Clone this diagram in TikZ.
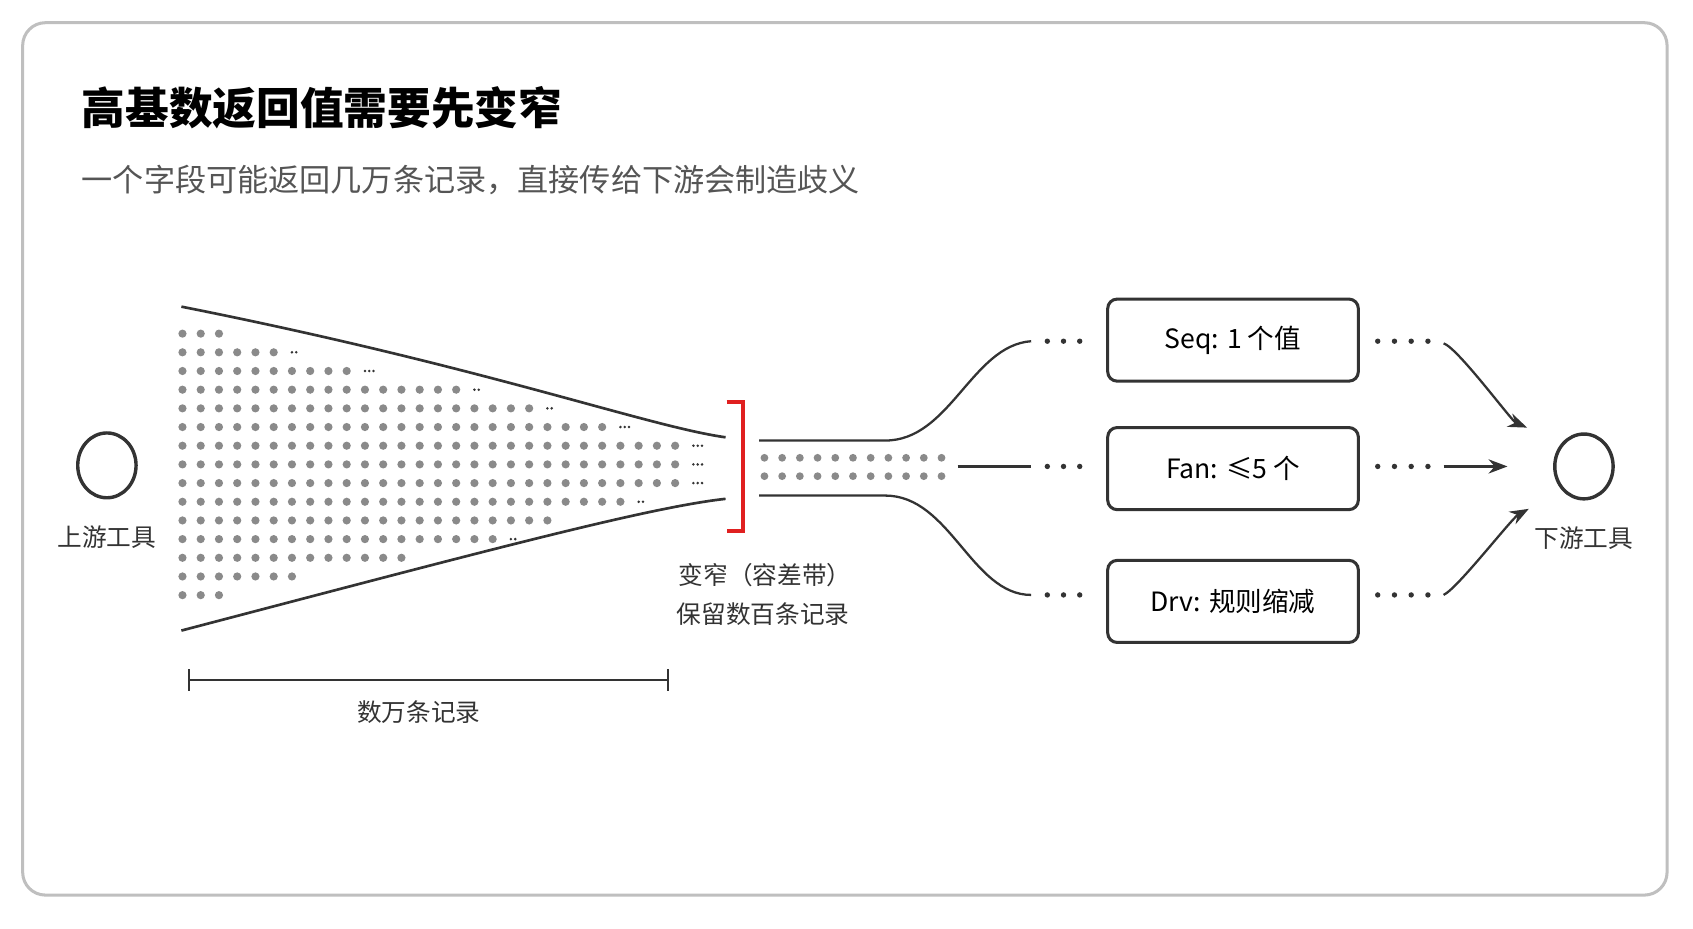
\documentclass[tikz,border=0pt]{standalone}
\usepackage{fontspec}
\setmainfont{Noto Sans CJK SC}
\usetikzlibrary{arrows.meta,positioning,shapes.geometric}
\definecolor{ink}{HTML}{333333}
\definecolor{dotgray}{HTML}{8A8A8A}
\definecolor{subgray}{HTML}{555555}
\definecolor{bandred}{HTML}{E02020}
\tikzset{
  tool/.style={draw=ink,line width=0.9pt,ellipse,minimum width=0.54cm,minimum height=0.6cm,inner sep=0pt},
  box/.style={draw=ink,line width=0.8pt,rounded corners=2.5pt,minimum width=2.32cm,minimum height=0.76cm,font=\fontsize{7}{8}\selectfont},
  lbl/.style={font=\fontsize{6.5}{7.5}\selectfont,text=ink},
  wire/.style={draw=ink,line width=0.6pt},
  pt/.style={fill=dotgray,draw=none},
}
\begin{document}
\begin{tikzpicture}[x=0.01cm,y=-0.01cm]
\useasboundingbox (0,0) rectangle (1568,860);
\draw[line width=0.8pt,draw=black!25,rounded corners=6pt] (21,21) rectangle (1544,829);
% titles
\node[anchor=west,inner sep=0pt,font=\fontsize{11.5}{13}\selectfont\bfseries] at (75,100) {高基数返回值需要先变窄};
\node[anchor=west,inner sep=0pt,font=\fontsize{8.2}{10}\selectfont,text=subgray] at (75,167) {一个字段可能返回几万条记录，直接传给下游会制造歧义};
% end points
\node[tool] (up) at (99,431) {};
\node[lbl,below=0.12cm of up] {上游工具};
\node[tool] (down) at (1467,432) {};
\node[lbl,below=0.12cm of down] {下游工具};
% funnel
\draw[wire,line width=0.7pt] (168,284) .. controls (450,340) and (600,395) .. (672,405);
\draw[wire,line width=0.7pt] (168,584) .. controls (450,510) and (600,470) .. (672,462);
\foreach \r/\n/\e in {0/3/0,1/6/2,2/10/3,3/16/2,4/20/2,5/24/3,6/28/3,7/28/3,8/28/3,9/25/2,10/21/0,11/18/2,12/13/0,13/7/0,14/3/0}{
  \pgfmathsetmacro\yy{309+17.3*\r}
  \foreach \c in {1,...,\n}
    \fill[pt] ({169+16.9*(\c-1)},\yy) circle (3.8);
  \ifnum\e>0
    \foreach \k in {1,...,\e}
      \fill[ink] ({169+16.9*\n-4+4*\k},\yy) circle (1.3);
  \fi
}
% band
\draw[bandred,line width=1pt] (673,372) -- (688,372) -- (688,492) -- (673,492);
\node[lbl,anchor=west,inner sep=0pt] at (628,533) {变窄（容差带）};
\node[lbl,anchor=west,inner sep=0pt] at (626,569) {保留数百条记录};
% range
\draw[wire] (175,620) -- (175,640) (175,630) -- (619,630) (619,620) -- (619,640);
\node[lbl] at (388,660) {数万条记录};
% neck
\foreach \yy in {424,441}
  \foreach \c in {0,...,10}
    \fill[pt] ({708+16.4*\c},\yy) circle (3.6);
% outputs
\node[box] (seq) at (1142,315) {Seq: 1 个值};
\node[box] (fan) at (1142,434) {Fan: ≤5 个};
\node[box] (drv) at (1142,557) {Drv: 规则缩减};
\foreach \yy/\n in {316/seq,432/fan,551/drv}{
  \foreach \k in {0,1,2}
    \fill[ink] ({970+15*\k},\yy) circle (2.5);
  \foreach \k in {0,1,2,3}
    \fill[ink] ({1276+15.5*\k},\yy) circle (2.5);
}
\coordinate (sIn) at (955,316);
\coordinate (fIn) at (955,432);
\coordinate (dIn) at (955,551);
\coordinate (sOut) at (1337,318);
\coordinate (fOut) at (1337,432);
\coordinate (dOut) at (1337,551);
\draw[wire] (703,408) -- (820,408) .. controls (880,408) and (900,320) .. (sIn);
\draw[wire] (887,432) -- (fIn);
\draw[wire] (703,459) -- (820,459) .. controls (880,459) and (900,551) .. (dIn);
\draw[wire,-{Stealth[length=5pt]},shorten >=10pt] (sOut) .. controls (1350,322) and (1400,390) .. (down.north west);
\draw[wire,-{Stealth[length=5pt]},shorten >=12pt] (fOut) -- (down.west);
\draw[wire,-{Stealth[length=5pt]},shorten >=10pt] (dOut) .. controls (1350,545) and (1400,480) .. (down.south west);
\end{tikzpicture}
\end{document}
